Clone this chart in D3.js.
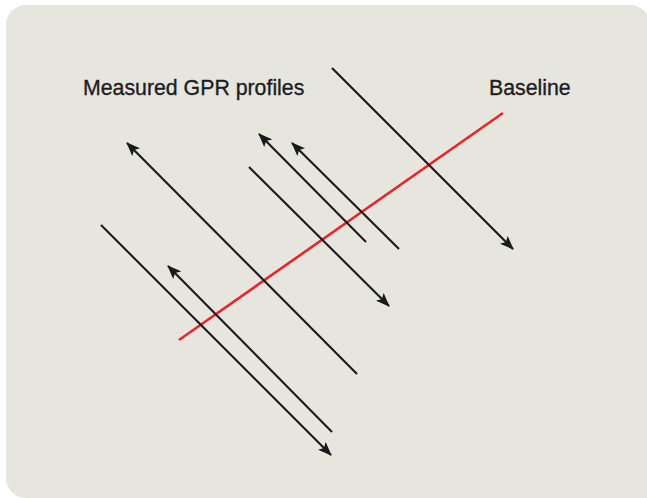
<!DOCTYPE html>
<html><head><meta charset="utf-8">
<script src="https://cdn.jsdelivr.net/npm/d3@7"></script>
<style>html,body{margin:0;padding:0;background:#fff;}svg{display:block;}</style>
</head><body>
<script>
// Survey plan coordinates (units of 10 px in the plot frame, y increasing downward)
const profileIds = ["P1","P2","P3","P4","P5","P6","P7"];
const profileStartX = [33.2, 35.7, 36.6, 39.9, 24.9, 10.1, 33.2];
const profileStartY = [ 6.8, 37.4, 24.2, 24.9, 16.7, 22.5, 43.2];
const profileEndX   = [51.3, 12.7, 25.9, 29.2, 38.9, 33.1, 16.8];
const profileEndY   = [24.9, 14.3, 13.4, 14.3, 30.6, 45.5, 26.6];
const baselineX = [17.9, 50.3];
const baselineY = [34.0, 11.3];
const labels = ["Measured GPR profiles", "Baseline"];
const labelX = [8.3, 48.9];
const labelY = [9.5, 9.5];

const W = 647, H = 498;
const x = d3.scaleLinear().domain([0, 64.7]).range([0, W]);
const y = d3.scaleLinear().domain([0, 49.8]).range([0, H]);

const svg = d3.select("body").append("svg").attr("width", W).attr("height", H);

// background panel (clip bottom-left corner rounded, bottom-right mostly off-canvas)
svg.append("rect").attr("x", 6).attr("y", 5).attr("width", 644).attr("height", 493)
  .attr("rx", 20).attr("ry", 20).attr("fill", "#e6e6df");
svg.append("rect").attr("x", 300).attr("y", 300).attr("width", 347).attr("height", 198)
  .attr("fill", "#e6e6df");

const defs = svg.append("defs");
defs.append("marker").attr("id", "arrow")
  .attr("markerUnits", "userSpaceOnUse")
  .attr("viewBox", "0 -6 14 12").attr("refX", 13).attr("refY", 0)
  .attr("markerWidth", 14).attr("markerHeight", 12).attr("orient", "auto")
  .append("path").attr("d", "M0,-5.5L14,0L0,5.5L3,0Z").attr("fill", "#1a1a1a");

const profiles = profileIds.map((id, i) => ({id, x1: profileStartX[i], y1: profileStartY[i], x2: profileEndX[i], y2: profileEndY[i]}));

svg.append("line")
  .attr("x1", x(baselineX[0])).attr("y1", y(baselineY[0]))
  .attr("x2", x(baselineX[1])).attr("y2", y(baselineY[1]))
  .attr("stroke", "#e8252b").attr("stroke-width", 2.6);

svg.selectAll("line.profile").data(profiles).join("line").attr("class", "profile")
  .attr("x1", d => x(d.x1)).attr("y1", d => y(d.y1))
  .attr("x2", d => x(d.x2)).attr("y2", d => y(d.y2))
  .attr("stroke", "#1a1a1a").attr("stroke-width", 2.1)
  .attr("marker-end", "url(#arrow)");

svg.selectAll("text.lbl").data(labels).join("text").attr("class", "lbl")
  .attr("x", (d, i) => x(labelX[i])).attr("y", (d, i) => y(labelY[i]))
  .attr("font-family", "'Liberation Sans', Arial, Helvetica, sans-serif")
  .attr("font-size", 21.3).attr("fill", "#1e1e1e")
  .attr("stroke", "#1e1e1e").attr("stroke-width", 0.35)
  .text(d => d);
</script>
</body></html>
